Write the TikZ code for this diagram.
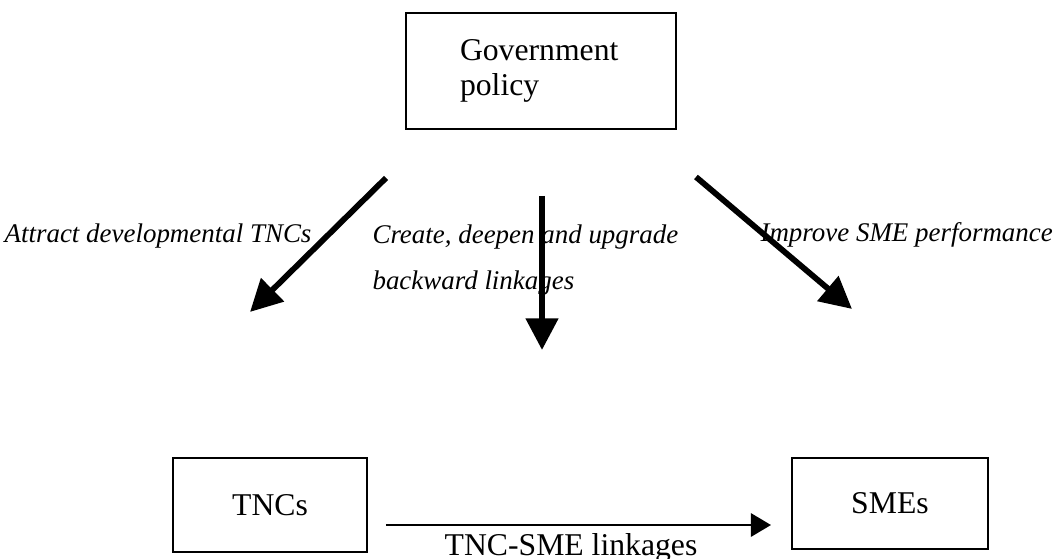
\documentclass[tikz,border=0pt]{standalone}
\usepackage{fontspec}
\setmainfont{Liberation Serif}
\usetikzlibrary{arrows.meta}

\begin{document}
\begin{tikzpicture}[
  box/.style={draw,line width=1pt,inner sep=0pt,font=\fontsize{12}{13}\selectfont},
  push/.style={line width=2.2pt,-{Triangle[length=12pt,width=12pt]}},
  link/.style={line width=0.9pt,-{Triangle[length=7.6pt,width=8.8pt]}},
  lab/.style={font=\fontsize{10.2}{17.7}\selectfont\itshape,inner sep=0pt}]
\useasboundingbox (0,0) rectangle (14.038,7.438);

\node[box,minimum width=3.593cm,minimum height=1.543cm,text width=2.156cm,align=left] (gov) at (7.199,6.493) {Government\\policy};
\node[box,minimum width=2.581cm,minimum height=1.251cm] (tnc) at (3.593,0.718) {TNCs};
\node[box,minimum width=2.608cm,minimum height=1.211cm] (sme) at (11.842,0.739) {SMEs};

\coordinate (l1) at (5.136,5.070);
\coordinate (l2) at (3.327,3.287);
\coordinate (m1) at (7.212,4.830);
\coordinate (m2) at (7.212,2.781);
\coordinate (r1) at (9.261,5.083);
\coordinate (r2) at (11.337,3.327);
\coordinate (b1) at (5.136,0.452);
\coordinate (b2) at (10.259,0.452);

\draw[push] (l1) -- (l2);
\draw[push] (m1) -- (m2);
\draw[push] (r1) -- (r2);
\draw[link] (b1) -- (b2);

\node[lab,anchor=base east] (attract) at (4.151,4.205) {Attract developmental TNCs};
\node[lab,anchor=west,align=left] (create) at (4.950,3.978) {Create, deepen and upgrade\\backward linkages};
\node[lab,anchor=base west] (improve) at (10.113,4.218) {Improve SME performance};
\node[font=\fontsize{12}{13}\selectfont,inner sep=0pt,anchor=base] (tsl) at (7.598,0.04) {TNC-SME linkages};

\end{tikzpicture}
\end{document}
